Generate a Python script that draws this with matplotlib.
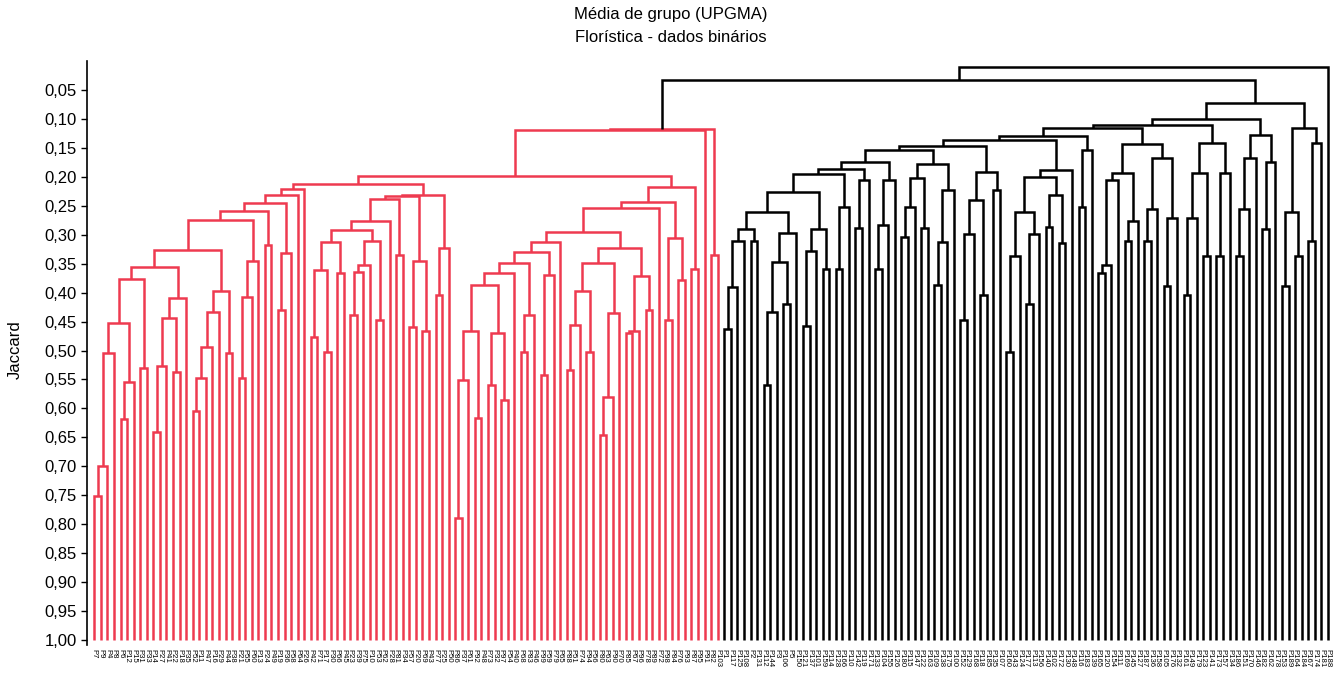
import matplotlib
matplotlib.use("Agg")
import matplotlib.pyplot as plt

plt.rcParams["font.family"] = ["Liberation Sans", "DejaVu Sans"]

# tree data: "(left,right)height", "*" is a leaf; heights are Jaccard levels
# ---- red group ----
RED_A = "((((*,*)0.752,*)0.70,*)0.505,((*,*)0.618,*)0.555)0.452"
RED_N = f"(({RED_A},(*,*)0.53)0.376,((((*,*)0.64,*)0.526,(*,*)0.537)0.443,*)0.41)0.355"
RED_U = "(((((*,*)0.604,*)0.548,*)0.494,*)0.433,(*,*)0.504)0.397"
RED_X = "(((*,*)0.548,*)0.407,*)0.346"
RED_Z4 = f"(((((({RED_N},{RED_U})0.326,{RED_X})0.275,(*,*)0.318)0.259,((*,*)0.43,*)0.332)0.246,*)0.231,*)0.221"
RED_N5 = ("((((*,*)0.476,(*,*)0.502)0.361,(*,*)0.366)0.312,"
          "((((*,*)0.439,*)0.364,*)0.352,(*,*)0.447)0.31)0.292")
RED_P3 = (f"(((({RED_N5},*)0.276,(*,*)0.335)0.238,"
          "((*,*)0.459,(*,*)0.467)0.346)0.234,((*,*)0.404,*)0.323)0.231")
RED_Q2 = "((((*,*)0.79,*)0.551,(*,*)0.617)0.467,((*,*)0.559,(*,*)0.585)0.469)0.386"
RED_Q6 = f"(((({RED_Q2},*)0.366,((*,*)0.502,*)0.4385)0.349,((*,*)0.542,*)0.37)0.329,*)0.312"
RED_Q7 = "((((*,*)0.534,*)0.456,(*,*)0.502)0.398,(((*,*)0.646,*)0.581,*)0.436)0.349"
RED_Q8 = f"({RED_Q7},(((*,*)0.469,*)0.467,(*,*)0.43)0.371)0.323"
RED_Q12 = f"(((({RED_Q6},{RED_Q8})0.295,*)0.254,((*,*)0.447,(*,*)0.378)0.305)0.243,(*,*)0.36)0.217"
RED_TREE = f"(((({RED_Z4},{RED_P3})0.212,{RED_Q12})0.198,*)0.12,(*,*)0.335)0.117"

# ---- black group ----
BLK_C1 = ("(((((*,*)0.463,*)0.39,*)0.31,(*,*)0.31)0.29,"
          "((((*,*)0.559,*)0.434,(*,*)0.42)0.347,*)0.297)0.26")
BLK_C3 = f"(({BLK_C1},(((*,*)0.458,*)0.328,(*,*)0.359)0.29)0.226,((*,*)0.359,*)0.252)0.196"
BLK_C4 = f"(({BLK_C3},((*,*)0.289,*)0.206)0.187,(((*,*)0.359,*)0.283,*)0.206)0.175"
BLK_G2 = "((((*,*)0.304,*)0.253,(*,*)0.289)0.202,(((*,*)0.387,*)0.313,*)0.222)0.178"
BLK_I1 = "((((*,*)0.447,*)0.299,(*,*)0.404)0.24,(*,*)0.222)0.191"
BLK_C6 = f"(({BLK_C4},{BLK_G2})0.154,{BLK_I1})0.147"
BLK_J1 = ("(((((*,*)0.503,*)0.336,((*,*)0.419,*)0.299)0.261,"
          "((*,*)0.287,(*,*)0.314)0.231)0.2,*)0.188")
BLK_J2 = "((*,*)0.253,*)0.154"
BLK_J3 = ("(((((*,*)0.366,*)0.352,*)0.206,((*,*)0.31,*)0.277)0.193,"
          "(((*,*)0.31,*)0.255,((*,*)0.388,*)0.271)0.167)0.144")
BLK_J4 = "((((*,*)0.404,*)0.271,(*,*)0.336)0.193,((*,*)0.336,*)0.193)0.142"
BLK_J5 = "((((*,*)0.336,*)0.255,*)0.167,((*,*)0.29,*)0.175)0.127"
BLK_K = "(((*,*)0.388,(*,*)0.336)0.261,((*,*)0.31,*)0.141)0.115"
BLACK_TREE = (f"(((((({BLK_C6},{BLK_J1})0.136,{BLK_J2})0.129,{BLK_J3})0.115,"
              f"{BLK_J4})0.11,{BLK_J5})0.10,{BLK_K})0.073")

JOIN_RED_BLACK = 0.033
JOIN_LAST = 0.01

LEAF_LABELS = """
7 9 4 8 6 12 15 31 33 14 27 41 22 18 35 52 11 47 16 29 44 38 21 55 60
13 24 49 19 36 58 64 26 42 71 17 30 66 45 23 39 75 10 53 62 28 81 34 57 20
69 43 77 25 50 86 37 61 92 48 73 32 97 54 40 68 83 46 99 59 79 65 88 51 74
94 56 80 63 90 70 85 67 96 78 89 72 98 84 76 93 87 95 91 82 103 1 117 125 108
2 131 112 144 3 106 5 150 121 137 101 159 114 128 166 110 142 119 171 133 104 155 126 180 115
147 122 163 109 138 175 100 152 129 168 118 185 135 107 160 143 124 177 113 156 140 102 172 130 148
116 183 139 165 120 154 111 169 145 127 187 136 158 105 176 132 161 149 179 123 141 173 157 134 186
151 170 146 182 162 178 153 189 164 184 167 174 181 188
""".split()

Y_TICKS = [0.05, 0.10, 0.15, 0.20, 0.25, 0.30, 0.35, 0.40, 0.45, 0.50,
           0.55, 0.60, 0.65, 0.70, 0.75, 0.80, 0.85, 0.90, 0.95, 1.00]

RED = "#EE3A50"


def parse(text):
    assert text.count("(") == text.count(")"), "unbalanced tree string"
    pos = 0

    def node():
        nonlocal pos
        if text[pos] == "*":
            pos += 1
            return None
        pos += 1  # "("
        left = node()
        pos += 1  # ","
        right = node()
        pos += 1  # ")"
        start = pos
        while pos < len(text) and (text[pos].isdigit() or text[pos] == "."):
            pos += 1
        return (left, right, float(text[start:pos]))

    return node()


def layout(tree, color, segs, counter):
    if tree is None:
        x = counter[0]
        counter[0] += 1
        return x, 1.0
    left, right, h = tree
    xl, hl = layout(left, color, segs, counter)
    xr, hr = layout(right, color, segs, counter)
    segs.append(([xl, xl, xr, xr], [hl, h, h, hr], color))
    return (xl + xr) / 2, h


segs = []
counter = [0]
x_red, h_red = layout(parse(RED_TREE), RED, segs, counter)
x_blk, h_blk = layout(parse(BLACK_TREE), "black", segs, counter)
segs.append(([x_red, x_red, x_blk, x_blk], [h_red, JOIN_RED_BLACK, JOIN_RED_BLACK, h_blk], "black"))
x_last = counter[0]
counter[0] += 1
x_top = (x_red + x_blk) / 2
segs.append(([x_top, x_top, x_last, x_last], [JOIN_RED_BLACK, JOIN_LAST, JOIN_LAST, 1.0], "black"))
n_leaves = counter[0]

fig = plt.figure(figsize=(13.41, 6.8), dpi=100)
ax = fig.add_axes([0.0649, 0.0515, 0.9306, 0.8588])

for xs, ys, c in segs:
    ax.plot(xs, ys, color=c, lw=1.8, solid_joinstyle="miter", solid_capstyle="butt")

ax.set_xlim(-1.11, n_leaves - 1 + 1.07)
ax.set_ylim(1.0085, 0.0)
ax.set_yticks(Y_TICKS)
ax.set_yticklabels([f"{t:.2f}".replace(".", ",") for t in Y_TICKS], fontsize=12)
ax.set_xticks(range(n_leaves))
ax.set_xticklabels(["P" + s for s in LEAF_LABELS[:n_leaves]], rotation=270, fontsize=5.6)
ax.tick_params(axis="x", length=0, pad=3)
ax.tick_params(axis="y", length=4, width=1, direction="out")
for side in ["top", "right", "bottom"]:
    ax.spines[side].set_visible(False)
ax.spines["left"].set_linewidth(1.2)

fig.text(0.5, 1 - 15 / 680, "Média de grupo (UPGMA)", ha="center", va="center", fontsize=12)
fig.text(0.5, 1 - 37 / 680, "Florística - dados binários", ha="center", va="center", fontsize=12)
fig.text(15 / 1341, 1 - 350 / 680, "Jaccard", rotation=90, ha="center", va="center", fontsize=12)

fig.savefig("out.png", dpi=100)
